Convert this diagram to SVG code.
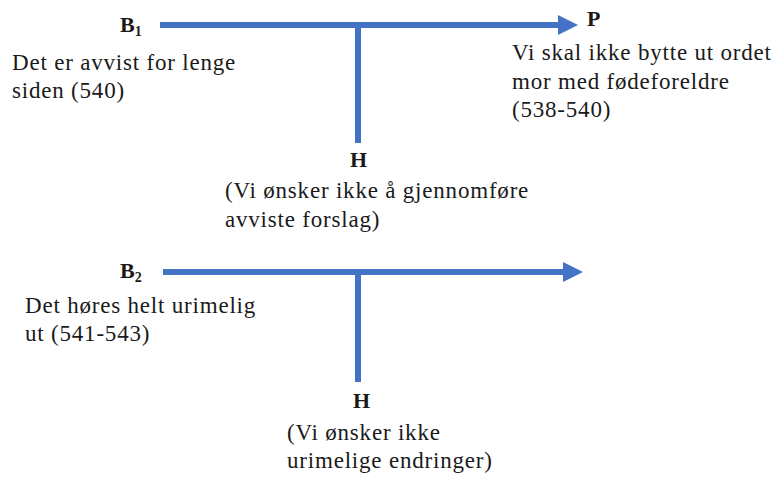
<svg xmlns="http://www.w3.org/2000/svg" width="777" height="477" viewBox="0 0 777 477">
<style>
.t{font-size:23px;letter-spacing:0.8px;fill:#1a1a1a}
.b{font-weight:bold;font-size:22px;letter-spacing:0;fill:#1a1a1a}
.ln{stroke:#4472C4;stroke-width:6;fill:none}
</style>
<defs>
<marker id="ah" markerUnits="userSpaceOnUse" markerWidth="22" markerHeight="22" refX="0" refY="11" orient="auto">
<path d="M0,1 L20,11 L0,21 Z" fill="#4472C4"/>
</marker>
</defs>
<rect width="777" height="477" fill="#fff"/>
<g id="connectors">
<line class="ln" x1="160" y1="25" x2="558" y2="25" marker-end="url(#ah)"/>
<line class="ln" x1="358" y1="25" x2="358" y2="143"/>
<line class="ln" x1="163" y1="272" x2="563" y2="272" marker-end="url(#ah)"/>
<line class="ln" x1="358" y1="272" x2="358" y2="382"/>
</g>
<g font-family="Liberation Serif, Times New Roman, serif">
<g id="B1">
<text x="120" y="32" class="b">B<tspan font-size="14" dy="4">1</tspan></text>
<text x="12" y="70" class="t">Det er avvist for lenge</text>
<text x="12" y="98" class="t">siden (540)</text>
</g>
<g id="P">
<text x="587" y="26" class="b">P</text>
<text x="512" y="60" class="t">Vi skal ikke bytte ut ordet</text>
<text x="512" y="88.5" class="t">mor med fødeforeldre</text>
<text x="512" y="117" class="t">(538-540)</text>
</g>
<g id="H1">
<text x="350" y="167" class="b">H</text>
<text x="225" y="198" class="t">(Vi ønsker ikke å gjennomføre</text>
<text x="225" y="227" class="t">avviste forslag)</text>
</g>
<g id="B2">
<text x="120" y="278" class="b">B<tspan font-size="14" dy="4">2</tspan></text>
<text x="25" y="313" class="t">Det høres helt urimelig</text>
<text x="25" y="341" class="t">ut (541-543)</text>
</g>
<g id="H2">
<text x="353" y="408" class="b">H</text>
<text x="287" y="440" class="t">(Vi ønsker ikke</text>
<text x="287" y="468" class="t">urimelige endringer)</text>
</g>
</g>
</svg>
